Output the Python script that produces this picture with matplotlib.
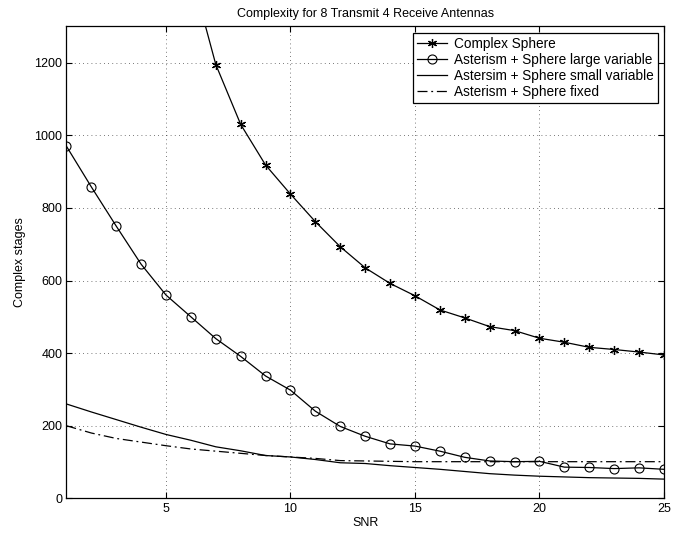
import matplotlib
matplotlib.use("Agg")
import matplotlib.pyplot as plt

plt.rcParams['font.family'] = ['Liberation Sans', 'DejaVu Sans']

snr = list(range(1, 26))

# Complex Sphere (first points lie above the visible range)
complex_sphere = [2900, 2500, 2150, 1880, 1650, 1450, 1195, 1030, 918, 838,
                  762, 693, 635, 592, 558, 519, 497, 473, 462, 441,
                  430, 416, 410, 403, 395]
large_variable = [970, 858, 750, 645, 560, 500, 440, 391, 337, 298,
                  240, 198, 171, 150, 144, 130, 113, 103, 101, 102,
                  86, 85, 82, 84, 80]
small_variable = [260, 238, 217, 196, 176, 160, 142, 131, 118, 114,
                  107, 98, 96, 90, 85, 80, 74, 68, 64, 61,
                  59, 57, 56, 55, 53]
fixed = [200, 180, 165, 155, 145, 136, 130, 124, 118, 114,
         110, 104, 103, 102, 101, 101, 101, 101, 101, 101,
         101, 101, 101, 101, 101]

labels = ["Complex Sphere", "Asterism + Sphere large variable",
          "Astersim + Sphere small variable", "Asterism + Sphere fixed"]

fig = plt.figure(figsize=(6.81, 5.33), dpi=100)
ax = fig.add_axes([0.0975, 0.065, 0.8775, 0.8855])

ax.plot(snr, complex_sphere, color='black', lw=0.9, marker=(6, 2, 0), ms=6.5,
        mew=0.9, label=labels[0])
ax.plot(snr, large_variable, color='black', lw=0.9, marker='o', ms=6.5,
        mfc='none', mew=0.8, label=labels[1])
ax.plot(snr, small_variable, color='black', lw=0.9, label=labels[2])
ax.plot(snr, fixed, color='black', lw=0.9, ls='-.', dashes=(8, 3, 1.5, 3),
        label=labels[3])

ax.set_xlim(1, 25)
ax.set_ylim(0, 1300)
ax.set_xticks([5, 10, 15, 20, 25])
ax.set_yticks(range(0, 1300, 200))
ax.tick_params(direction='in', top=True, right=True, labelsize=9,
               length=4.5, pad=3)
ax.grid(True, ls=(0, (1, 4)), color='black', lw=0.6, alpha=0.7)
for s in ax.spines.values():
    s.set_linewidth(0.9)

ax.set_title("Complexity for 8 Transmit 4 Receive Antennas", fontsize=9, pad=7)
ax.set_xlabel("SNR", fontsize=9, labelpad=2)
ax.set_ylabel("Complex stages", fontsize=9, labelpad=6)

leg = ax.legend(loc='upper right', fontsize=9.8, fancybox=False,
                framealpha=1, edgecolor='black', borderaxespad=0.45,
                handlelength=2.2, handletextpad=0.5, labelspacing=0.15,
                borderpad=0.3)
leg.get_frame().set_linewidth(0.9)

fig.savefig("out.png", dpi=100)
